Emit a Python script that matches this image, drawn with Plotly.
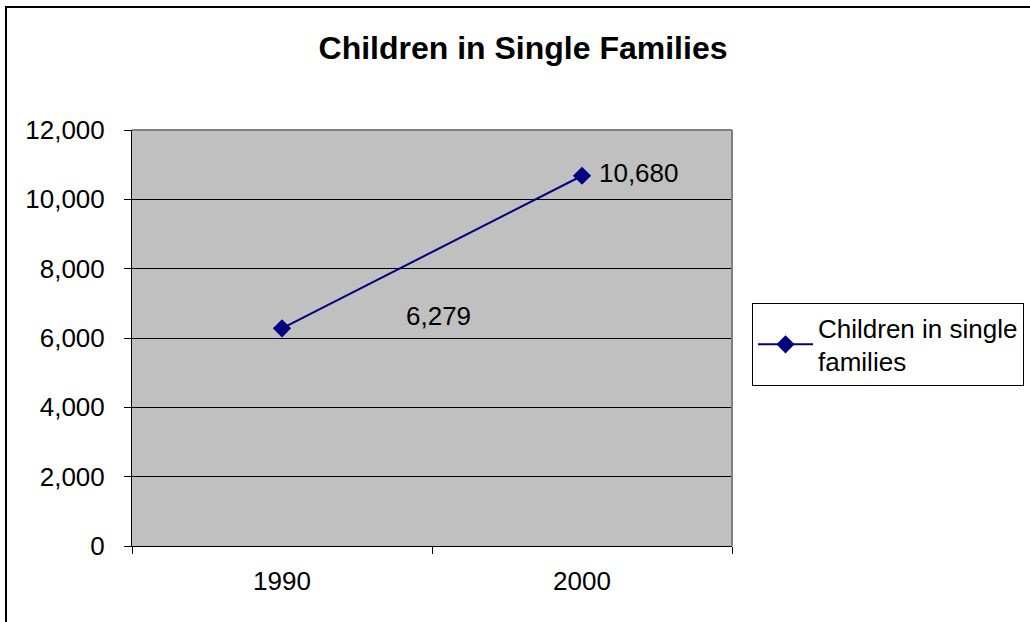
import plotly.graph_objects as go

years = ["1990", "2000"]
children = [6279, 10680]
series_name = "Children in single<br>families"
title_text = "Children in Single Families"
y_ticks = [0, 2000, 4000, 6000, 8000, 10000, 12000]

FONT = "Liberation Sans, Arial, sans-serif"
NAVY = "#000080"
FS = 26

fig = go.Figure()
fig.add_trace(go.Scatter(
    x=years, y=children, mode="lines+markers+text",
    name=series_name,
    line=dict(color=NAVY, width=2),
    marker=dict(symbol="diamond", size=14, color=NAVY),
    text=["", f" {children[1]:,}"],
    textposition="middle right",
    textfont=dict(family=FONT, size=FS, color="black"),
))

# manually placed label of the 1990 point
fig.add_annotation(
    x=0.52, y=children[0] + 360, xref="x", yref="y",
    text=f"{children[0]:,}", showarrow=False,
    font=dict(family=FONT, size=FS, color="black"),
)

fig.update_layout(
    width=1030, height=622,
    margin=dict(l=132, r=298, t=130, b=76, autoexpand=False),
    paper_bgcolor="white", plot_bgcolor="#C0C0C0",
    title=dict(text=f"<b>{title_text}</b>", x=523 / 1030, xanchor="center",
               y=1 - 48 / 622, yanchor="middle",
               font=dict(family=FONT, size=32, color="black")),
    font=dict(family=FONT, size=FS, color="black"),
    showlegend=True,
    legend=dict(x=752 / 1030, y=1 - 303 / 622, xanchor="left", yanchor="top",
                xref="container", yref="container",
                bordercolor="black", borderwidth=1, bgcolor="white",
                font=dict(family=FONT, size=FS, color="black"),
                itemwidth=55, tracegroupgap=0),
    xaxis=dict(type="category", tickson="boundaries", range=[-0.5, 1.5],
               showline=True, linecolor="black", linewidth=1,
               ticks="outside", ticklen=7, tickcolor="black",
               showgrid=False, zeroline=False, ticklabelstandoff=12,
               tickfont=dict(family=FONT, size=FS, color="black")),
    yaxis=dict(range=[0, 12000], tickvals=y_ticks, tickformat=",",
               showline=True, linecolor="black", linewidth=1,
               ticks="outside", ticklen=7, tickcolor="black",
               showgrid=True, gridcolor="black", gridwidth=1,
               zeroline=False, ticklabelstandoff=14,
               tickfont=dict(family=FONT, size=FS, color="black")),
)

# grey border on top/right of plot area
fig.add_shape(type="line", xref="paper", yref="paper", x0=0, x1=1, y0=1, y1=1,
              line=dict(color="#808080", width=2))
fig.add_shape(type="line", xref="paper", yref="paper", x0=1, x1=1, y0=0, y1=1,
              line=dict(color="#808080", width=2))
# outer chart border (top and left visible)
fig.add_shape(type="rect", xref="paper", yref="paper",
              x0=(6 - 132) / 600, x1=(1100 - 132) / 600,
              y0=-(700 - 546) / 416, y1=(546 - 7) / 416,
              line=dict(color="black", width=2), layer="below")

fig.write_html("out.html")
